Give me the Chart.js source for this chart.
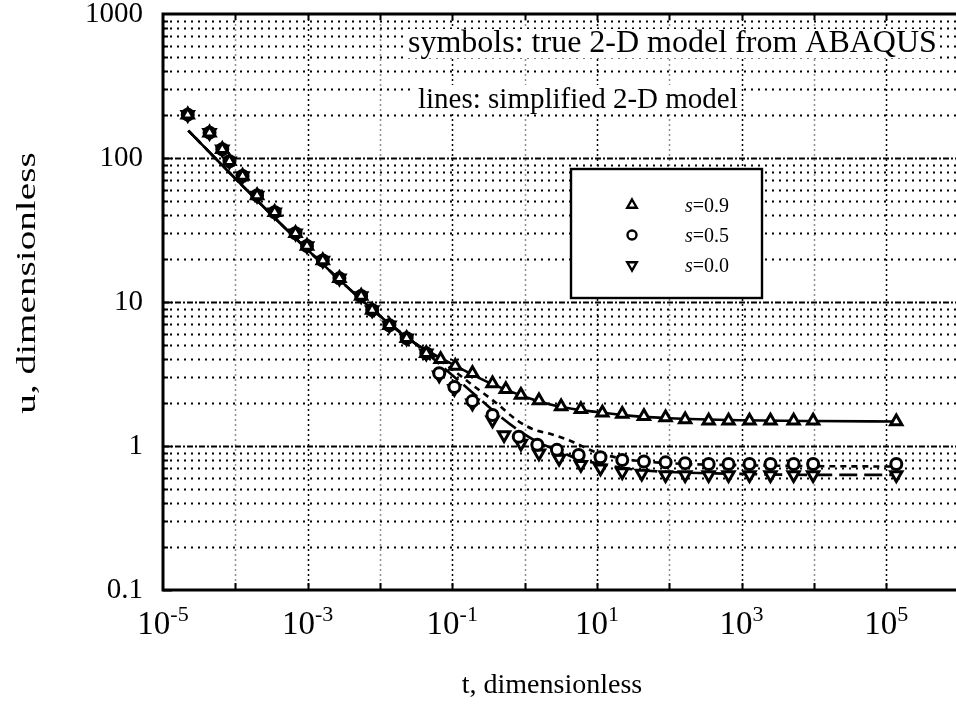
<!DOCTYPE html>
<html>
<head>
<meta charset="utf-8">
<title>u vs t, dimensionless</title>
<script src="https://cdn.jsdelivr.net/npm/chart.js@4.4.1/dist/chart.umd.min.js"></script>
<style>
  html, body { margin: 0; padding: 0; background: #fff; overflow: hidden; }
  #wrap { width: 968px; height: 722px; }
</style>
</head>
<body>
<div id="wrap"><canvas id="uPlot" width="968" height="722"></canvas></div>
<script>
// ABAQUS results (symbols). The three cases coincide at early time.
const earlyT = [2.2e-5, 4.4e-5, 6.6e-5, 8.3e-5, 1.26e-4, 2.0e-4, 3.5e-4, 6.8e-4, 9.8e-4, 1.62e-3, 2.75e-3, 5.5e-3, 7.8e-3, 0.0135, 0.0234, 0.0437];
const earlyU = [200, 150, 115, 95, 75, 55, 42, 30, 24.5, 19.4, 14.6, 11, 8.8, 6.9, 5.6, 4.4];

const symT_s09 = [0.069, 0.11, 0.19, 0.36, 0.55, 0.89, 1.58, 3.2, 6.0, 11.9, 22.4, 44.7, 89, 166, 351, 661, 1288, 2512, 5250, 9770, 138000];
const symU_s09 = [4.0, 3.6, 3.2, 2.72, 2.48, 2.26, 2.07, 1.88, 1.80, 1.70, 1.67, 1.61, 1.58, 1.53, 1.50, 1.50, 1.50, 1.50, 1.50, 1.50, 1.48];

const symT_s05 = [0.066, 0.107, 0.19, 0.36, 0.83, 1.5, 2.8, 5.6, 11.2, 22.4, 44.7, 89, 166, 351, 661, 1288, 2512, 5250, 9770, 138000];
const symU_s05 = [3.2, 2.57, 2.05, 1.64, 1.16, 1.02, 0.94, 0.865, 0.835, 0.80, 0.78, 0.77, 0.76, 0.75, 0.75, 0.75, 0.75, 0.75, 0.75, 0.75];

const symT_s00 = [0.066, 0.107, 0.19, 0.36, 0.52, 0.89, 1.58, 3.0, 6.0, 11.2, 22.4, 41.7, 89, 166, 351, 661, 1288, 2512, 5250, 9770, 138000];
const symU_s00 = [3.1, 2.5, 1.98, 1.51, 1.19, 1.04, 0.89, 0.82, 0.74, 0.70, 0.66, 0.645, 0.63, 0.63, 0.63, 0.63, 0.63, 0.63, 0.63, 0.63, 0.63];

// simplified model (lines), shared early branch
const lineEarlyT = [2.24e-5, 1e-4, 1e-3, 1e-2, 0.03];
const lineEarlyU = [155, 72, 23, 8.0, 5.2];

const lineT_s09 = [0.1, 0.3, 1, 3, 10, 30, 100, 1000, 10000, 138000];
const lineU_s09 = [3.7, 2.8, 2.2, 1.88, 1.72, 1.62, 1.56, 1.51, 1.49, 1.48];

const lineT_s05 = [0.05, 0.1, 0.2, 0.4, 0.8, 1.4, 2.2, 3.3, 4.6, 10, 30, 100, 1000, 10000, 138000];
const lineU_s05 = [4.4, 3.4, 2.6, 2.0, 1.5, 1.29, 1.22, 1.14, 1.07, 0.90, 0.80, 0.76, 0.735, 0.725, 0.72];

const lineT_s00 = [0.05, 0.1, 0.2, 0.4, 0.8, 1.5, 3, 6, 10, 30, 100, 1000, 10000, 138000];
const lineU_s00 = [4.2, 3.1, 2.3, 1.7, 1.3, 1.07, 0.92, 0.8, 0.76, 0.69, 0.66, 0.64, 0.63, 0.63];

const xLabelExps = [-5, -3, -1, 1, 3, 5];
const legendRows = [
  { style: "triangle", rotation: 0, text: "=0.9" },
  { style: "circle", rotation: 0, text: "=0.5" },
  { style: "triangle", rotation: 180, text: "=0.0" },
];

const SERIF = "'Liberation Serif', 'Times New Roman', serif";

function toPoints(ts, us) {
  return ts.map((t, i) => ({ x: t, y: us[i] }));
}

function symbolSet(label, ts, us, style, rotation, radius) {
  return {
    label,
    data: toPoints(earlyT.concat(ts), earlyU.concat(us)),
    showLine: false,
    pointStyle: style,
    rotation,
    pointRadius: radius,
    pointBackgroundColor: "#fff",
    pointBorderColor: "#000",
    pointBorderWidth: 3,
  };
}

function lineSet(label, ts, us, dash) {
  return {
    label,
    data: toPoints(lineEarlyT.concat(ts), lineEarlyU.concat(us)),
    showLine: true,
    pointRadius: 0,
    borderColor: "#000",
    borderWidth: 2.6,
    borderDash: dash,
    cubicInterpolationMode: "monotone",
    fill: false,
  };
}

const datasets = [
  symbolSet("s=0.9 ABAQUS", symT_s09, symU_s09, "triangle", 0, 6.5),
  symbolSet("s=0.5 ABAQUS", symT_s05, symU_s05, "circle", 0, 5.5),
  symbolSet("s=0.0 ABAQUS", symT_s00, symU_s00, "triangle", 180, 6.5),
  lineSet("s=0.9 simplified", lineT_s09, lineU_s09, []),
  lineSet("s=0.5 simplified", lineT_s05, lineU_s05, [6, 5]),
  lineSet("s=0.0 simplified", lineT_s00, lineU_s00, [18, 7]),
];

function hLine(ctx, a, py, dash, width) {
  ctx.setLineDash(dash);
  ctx.lineWidth = width;
  ctx.beginPath();
  ctx.moveTo(a.left, py);
  ctx.lineTo(a.right, py);
  ctx.stroke();
}

function vLine(ctx, a, px, dash, width) {
  ctx.setLineDash(dash);
  ctx.lineWidth = width;
  ctx.beginPath();
  ctx.moveTo(px, a.top);
  ctx.lineTo(px, a.bottom);
  ctx.stroke();
}

const notes = [
  { text: "symbols: true 2-D model from ABAQUS", size: 32, dx: 245, dy: 38 },
  { text: "lines: simplified 2-D model", size: 29, dx: 255, dy: 94 },
];

// dotted paper grid, blanked behind the notes
const paperPlugin = {
  id: "paper",
  beforeDatasetsDraw(chart) {
    const { ctx, chartArea: a, scales } = chart;
    const x = scales.x;
    const y = scales.y;
    ctx.save();
    ctx.strokeStyle = "#000";

    for (let e = -1; e < 3; e++) {
      for (let k = 1; k < 10; k++) {
        if (e === -1 && k === 1) continue;
        const py = Math.round(y.getPixelForValue(k * Math.pow(10, e))) + 0.5;
        if (k === 1) hLine(ctx, a, py, [6, 2, 2, 2], 2);
        else hLine(ctx, a, py, [2, 5], 2);
      }
    }

    for (let e = -4; e <= 5; e++) {
      const px = Math.round(x.getPixelForValue(Math.pow(10, e))) + 0.5;
      ctx.strokeStyle = e % 2 === 0 ? "rgba(0,0,0,0.45)" : "#000";
      vLine(ctx, a, px, [2, 3], 1.5);
    }
    ctx.strokeStyle = "#000";

    // white ground behind the two notes
    ctx.setLineDash([]);
    ctx.fillStyle = "#fff";
    notes.forEach((n) => {
      ctx.font = n.size + "px " + SERIF;
      const w = ctx.measureText(n.text).width;
      ctx.fillRect(a.left + n.dx - 3, a.top + n.dy - 23, w + 6, 29);
    });

    // axis tick marks
    ctx.lineWidth = 2;
    for (let e = -1; e < 3; e++) {
      for (let k = 1; k < 10; k++) {
        const py = Math.round(y.getPixelForValue(k * Math.pow(10, e))) + 0.5;
        const len = k === 1 ? 9 : 5;
        ctx.beginPath();
        ctx.moveTo(a.left, py);
        ctx.lineTo(a.left + len, py);
        ctx.stroke();
      }
    }
    for (let e = -4; e <= 5; e++) {
      const px = Math.round(x.getPixelForValue(Math.pow(10, e))) + 0.5;
      ctx.beginPath();
      ctx.moveTo(px, a.bottom);
      ctx.lineTo(px, a.bottom - 7);
      ctx.moveTo(px, a.top);
      ctx.lineTo(px, a.top + 6);
      ctx.stroke();
    }
    ctx.restore();
  },

  afterDatasetsDraw(chart) {
    const { ctx, chartArea: a, scales } = chart;
    const x = scales.x;
    ctx.save();
    ctx.strokeStyle = "#000";
    ctx.fillStyle = "#000";
    ctx.setLineDash([]);

    // frame
    ctx.lineWidth = 3;
    ctx.beginPath();
    ctx.moveTo(a.right, a.top);
    ctx.lineTo(a.left, a.top);
    ctx.lineTo(a.left, a.bottom);
    ctx.lineTo(a.right, a.bottom);
    ctx.stroke();

    // notes
    ctx.textAlign = "left";
    ctx.textBaseline = "alphabetic";
    notes.forEach((n) => {
      ctx.font = n.size + "px " + SERIF;
      ctx.fillText(n.text, a.left + n.dx, a.top + n.dy);
    });

    // legend box
    const bx = a.left + 408;
    const by = a.top + 155;
    ctx.fillStyle = "#fff";
    ctx.fillRect(bx, by, 191, 129);
    ctx.lineWidth = 2.4;
    ctx.strokeRect(bx, by, 191, 129);
    legendRows.forEach((row, i) => {
      const cy = by + 36 + i * 30;
      ctx.fillStyle = "#fff";
      ctx.strokeStyle = "#000";
      Chart.helpers.drawPoint(ctx, {
        pointStyle: row.style,
        rotation: row.rotation,
        radius: row.style === "circle" ? 4.5 : 5.5,
        borderWidth: 2.6,
      }, bx + 61, cy);
      ctx.fillStyle = "#000";
      ctx.textBaseline = "middle";
      ctx.font = "italic 20px " + SERIF;
      ctx.fillText("s", bx + 114, cy + 2);
      const sw = ctx.measureText("s").width;
      ctx.font = "20px " + SERIF;
      ctx.fillText(row.text, bx + 114 + sw, cy + 2);
    });

    // x tick labels with exponents
    ctx.textBaseline = "alphabetic";
    xLabelExps.forEach((e) => {
      const px = x.getPixelForValue(Math.pow(10, e));
      const exp = (e < 0 ? "-" : "") + Math.abs(e);
      ctx.font = "33px " + SERIF;
      const bw = ctx.measureText("10").width;
      ctx.font = "22px " + SERIF;
      const ew = ctx.measureText(exp).width;
      const x0 = px - (bw + ew) / 2;
      ctx.font = "33px " + SERIF;
      ctx.fillText("10", x0, a.bottom + 44);
      ctx.font = "22px " + SERIF;
      ctx.fillText(exp, x0 + bw, a.bottom + 31);
    });

    // axis titles
    ctx.font = "28px " + SERIF;
    ctx.textAlign = "center";
    ctx.fillText("t, dimensionless", 552, a.bottom + 103);
    ctx.translate(28, 283);
    ctx.rotate(-Math.PI / 2);
    ctx.scale(1.4, 1);
    ctx.textBaseline = "middle";
    ctx.fillText("u, dimensionless", 0, 0);
    ctx.restore();
  },
};

function isDecade(v) {
  const l = Math.log10(v);
  return Math.abs(l - Math.round(l)) < 1e-9;
}

function noOverflow(scale) {
  scale.paddingTop = 0;
  scale.paddingBottom = 0;
  scale.paddingLeft = 0;
  scale.paddingRight = 0;
}

new Chart(document.getElementById("uPlot"), {
  type: "scatter",
  data: { datasets },
  options: {
    responsive: false,
    animation: false,
    layout: { padding: { top: 14, left: 0, right: 0, bottom: 0 } },
    plugins: {
      legend: { display: false },
      tooltip: { enabled: false },
    },
    scales: {
      x: {
        type: "logarithmic",
        min: 1e-5,
        max: 1e6,
        grid: { display: false, drawTicks: false },
        border: { display: false },
        ticks: { display: false },
        afterFit(scale) {
          scale.height = 132;
          noOverflow(scale);
        },
      },
      y: {
        type: "logarithmic",
        min: 0.1,
        max: 1000,
        grid: { display: false, drawTicks: false },
        border: { display: false },
        ticks: {
          autoSkip: false,
          padding: 20,
          color: "#000",
          font: { family: SERIF, size: 29, lineHeight: 0.9 },
          callback: (v) => (isDecade(v) ? (v < 1 ? "0.1" : String(Math.round(v))) : ""),
        },
        afterFit(scale) {
          scale.width = 163;
          noOverflow(scale);
        },
      },
    },
  },
  plugins: [paperPlugin],
});
</script>
</body>
</html>
